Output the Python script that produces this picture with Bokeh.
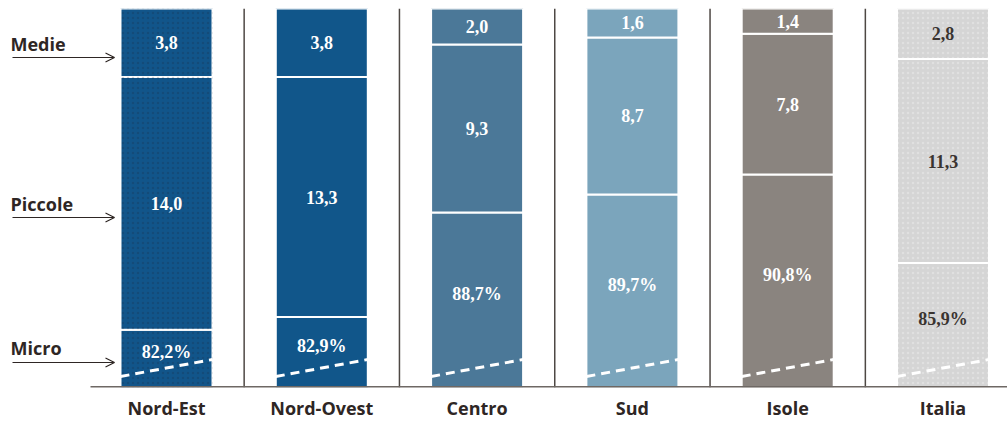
from bokeh.plotting import figure
from bokeh.models import Range1d, FixedTicker, ColumnDataSource, Arrow, OpenHead
from bokeh.core.properties import value
from bokeh.embed import file_html
from bokeh.resources import INLINE

# ---- data ----
regions = ["Nord-Est", "Nord-Ovest", "Centro", "Sud", "Isole", "Italia"]
micro = [82.2, 82.9, 88.7, 89.7, 90.8, 85.9]
piccole = [14.0, 13.3, 9.3, 8.7, 7.8, 11.3]
medie = [3.8, 3.8, 2.0, 1.6, 1.4, 2.8]
classes = ["Medie", "Piccole", "Micro"]

# ---- style ----
colors = ["#11558a", "#11568a", "#4b7898", "#7ba5bc", "#8a847f", "#d5d5d5"]
txt_colors = ["white", "white", "white", "white", "white", "#3a3430"]

W, H = 1007, 422
TOP, FRAME_H = 8, 379
SPACING = 155.3
Y0, Y1 = 79.0, 100.0
x_start = -166 / SPACING
x_end = x_start + W / SPACING


def X(px):
    return x_start + px / SPACING


def Y(py):
    return Y1 - (py - TOP) / (FRAME_H / (Y1 - Y0))


n = len(regions)
xs = list(range(n))
bw = 92 / SPACING

p = figure(frame_width=W, frame_height=FRAME_H, output_backend="svg", toolbar_location=None,
           x_range=Range1d(x_start, x_end), y_range=Range1d(Y0, Y1),
           min_border_left=0, min_border_right=0, min_border_top=TOP,
           min_border_bottom=0)
p.outline_line_color = None
p.xgrid.visible = False
p.ygrid.visible = False
p.yaxis.visible = False
p.background_fill_color = "white"

# separators between regions
for i in range(n - 1):
    p.segment(x0=i + 0.5, y0=Y0, x1=i + 0.5, y1=Y1, line_color="#4e4844", line_width=1.5)

# stacked bars
tops_p = [m + q for m, q in zip(micro, piccole)]
tops_m = [t + d for t, d in zip(tops_p, medie)]
src = ColumnDataSource(dict(x=xs, micro=micro, pt=tops_p, mt=tops_m, color=colors))
for b, t in [(None, "micro"), ("micro", "pt"), ("pt", "mt")]:
    p.vbar(x="x", width=bw, bottom=(b if b else 0), top=t, source=src,
           fill_color="color", line_color="white", line_width=2)

# subtle textures
p.vbar(x=[0], width=bw, bottom=0, top=[100], fill_alpha=0, line_color=None,
       hatch_pattern="dot", hatch_color="#1a1a2a", hatch_alpha=0.18, hatch_scale=5)
p.vbar(x=[5], width=bw, bottom=0, top=[100], fill_alpha=0, line_color=None,
       hatch_pattern="dot", hatch_color="white", hatch_alpha=0.25, hatch_scale=5)

# truncation dashes
p.segment(x0=[x - bw / 2 for x in xs], y0=[Y(376)] * n,
          x1=[x + bw / 2 for x in xs], y1=[Y(359)] * n,
          line_color="white", line_width=3, line_dash="9 6")

# baseline
p.segment(x0=[X(90)], y0=[Y0 + 0.03], x1=[x_end], y1=[Y0 + 0.03], line_color="#6e6864", line_width=2)


def fmt(v):
    return f"{v:.1f}".replace(".", ",")


lab_x, lab_y, lab_t, lab_c = [], [], [], []
for i in range(n):
    lab_x += [i, i, i]
    lab_y += [(micro[i] + 79.7) / 2, (micro[i] + tops_p[i]) / 2, (tops_p[i] + tops_m[i]) / 2]
    lab_t += [fmt(micro[i]) + "%", fmt(piccole[i]), fmt(medie[i])]
    lab_c += [txt_colors[i]] * 3
p.text(x=lab_x, y=lab_y, text=lab_t, text_color=lab_c, text_align="center",
       text_baseline="middle", text_font=value("Liberation Serif"),
       text_font_style="bold", text_font_size="18px")

# left class labels with arrows
label_py = [43, 203, 347]
arrow_py = [57, 217, 362]
p.text(x=[X(10)] * 3, y=[Y(v) for v in label_py], text=classes, text_color="#2e2624",
       text_align="left", text_baseline="middle", text_font=value("Open Sans"),
       text_font_style="bold", text_font_size="18px")
for ap in arrow_py:
    p.add_layout(Arrow(end=OpenHead(size=9, line_width=1.2, line_color="#2e2624"),
                       x_start=X(12), y_start=Y(ap), x_end=X(114), y_end=Y(ap),
                       line_color="#2e2624", line_width=1.2))

# x axis
ax = p.xaxis[0]
ax.ticker = FixedTicker(ticks=xs)
ax.major_label_overrides = {i: r for i, r in enumerate(regions)}
ax.axis_line_color = None
ax.major_tick_line_color = None
ax.minor_tick_line_color = None
ax.major_tick_out = 0
ax.major_tick_in = 0
ax.major_label_standoff = 8
ax.major_label_text_font = "Open Sans"
ax.major_label_text_font_style = "bold"
ax.major_label_text_font_size = "18px"
ax.major_label_text_color = "#2e2624"

open("out.html", "w").write(file_html(p, INLINE))
